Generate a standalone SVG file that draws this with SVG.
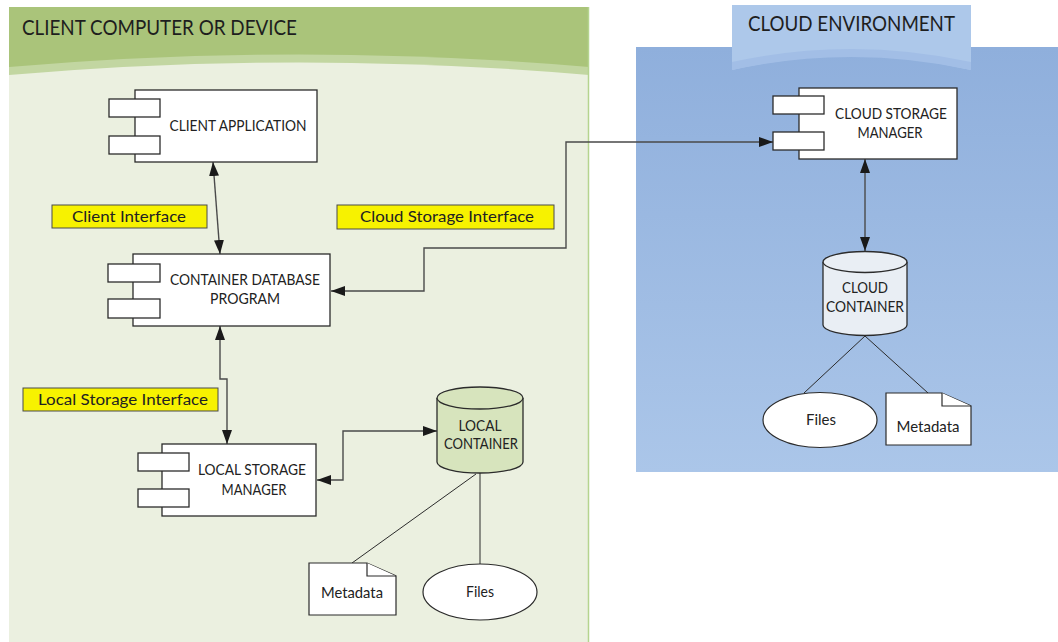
<svg xmlns="http://www.w3.org/2000/svg" width="1058" height="642" viewBox="0 0 1058 642">
  <defs>
    <style>
      .comp { fill: #ffffff; stroke: #2b2b2b; stroke-width: 1.3; }
      .shape { fill: #ffffff; stroke: #2b2b2b; stroke-width: 1.2; }
      .lbl { font-family: Lato, "Liberation Sans", Arial, sans-serif; font-size: 15px; fill: #222; text-anchor: middle; }
      .note { font-family: Lato, "Liberation Sans", Arial, sans-serif; font-size: 16px; fill: #222; text-anchor: middle; }
      .title { font-family: Lato, "Liberation Sans", Arial, sans-serif; font-size: 21px; fill: #1e1e1e; }
      .iface { fill: #f7f200; stroke: #4a4a4a; stroke-width: 1; }
      .conn { fill: none; stroke: #4a4a4a; stroke-width: 1.4; }
      .thin { fill: none; stroke: #2b2b2b; stroke-width: 1; }
    </style>
    <marker id="arr" viewBox="0 0 14 10" refX="14" refY="5" markerWidth="14" markerHeight="10" orient="auto-start-reverse" markerUnits="userSpaceOnUse">
      <path d="M0,0 L14,5 L0,10 Z" fill="#1a1a1a"/>
    </marker>
    <linearGradient id="cloudBody" x1="0" y1="0" x2="0" y2="1">
      <stop offset="0" stop-color="#8fafdc"/>
      <stop offset="1" stop-color="#abc6e9"/>
    </linearGradient>
  </defs>

  <!-- client side panel -->
  <g id="client-panel">
    <rect x="9" y="7" width="580" height="80" fill="#aac47a"/>
    <path d="M9,67 Q299,42 589,67 L589,80 L9,80 Z" fill="#c2d6a1"/>
    <path d="M9,75 Q299,50 589,75 L589,642 L9,642 Z" fill="#ebf0e0"/>
    <line x1="588.5" y1="7" x2="588.5" y2="642" stroke="#b5d48f" stroke-width="1.5"/>
    <text class="title" x="22" y="35" textLength="275" lengthAdjust="spacingAndGlyphs">CLIENT COMPUTER OR DEVICE</text>
  </g>

  <!-- cloud side panel -->
  <g id="cloud-panel">
    <rect x="636" y="47" width="422" height="425" fill="url(#cloudBody)"/>
    <path d="M732,5 H971 V70 Q851,42 732,70 Z" fill="#adc8ea"/>
    <path d="M732,62 Q851,36 971,62 V70 Q851,44 732,70 Z" fill="#a2bee6"/>
    <text class="title" x="748" y="31" textLength="207" lengthAdjust="spacingAndGlyphs">CLOUD ENVIRONMENT</text>
  </g>

  <!-- connectors -->
  <g id="connectors">
    <path class="conn" d="M213,162 L220,254" marker-start="url(#arr)" marker-end="url(#arr)"/>
    <path class="conn" d="M220,326 V379 H227 V444" marker-start="url(#arr)" marker-end="url(#arr)"/>
    <path class="conn" d="M331,291 H424 V248 H566 V142 H773" marker-start="url(#arr)" marker-end="url(#arr)"/>
    <path class="conn" d="M317,480 H343 V431 H437" marker-start="url(#arr)" marker-end="url(#arr)"/>
    <path class="conn" d="M865,159 V251" marker-start="url(#arr)" marker-end="url(#arr)"/>
    <path class="thin" d="M476,474 L352,563"/>
    <path class="thin" d="M480,473 V564"/>
    <path class="thin" d="M865,336 L804,393"/>
    <path class="thin" d="M865,336 L928,393"/>
  </g>

  <!-- interface labels -->
  <g id="client-interface">
    <rect class="iface" x="52" y="205" width="155" height="23"/>
    <text class="note" x="129" y="222" textLength="114" lengthAdjust="spacingAndGlyphs">Client Interface</text>
  </g>
  <g id="cloud-storage-interface">
    <rect class="iface" x="337" y="205" width="217" height="24"/>
    <text class="note" x="447" y="222" textLength="174" lengthAdjust="spacingAndGlyphs">Cloud Storage Interface</text>
  </g>
  <g id="local-storage-interface">
    <rect class="iface" x="23" y="388" width="195" height="23"/>
    <text class="note" x="123" y="405" textLength="170" lengthAdjust="spacingAndGlyphs">Local Storage Interface</text>
  </g>

  <!-- components -->
  <g id="client-application">
    <rect class="comp" x="135" y="90" width="182" height="72"/>
    <rect class="comp" x="109" y="99" width="51" height="18"/>
    <rect class="comp" x="109" y="136" width="51" height="18"/>
    <text class="lbl" x="238" y="131" textLength="137" lengthAdjust="spacingAndGlyphs">CLIENT APPLICATION</text>
  </g>
  <g id="container-database-program">
    <rect class="comp" x="133" y="254" width="197" height="72"/>
    <rect class="comp" x="108" y="264" width="52" height="18"/>
    <rect class="comp" x="108" y="299" width="52" height="19"/>
    <text class="lbl" x="245" y="285" textLength="150" lengthAdjust="spacingAndGlyphs">CONTAINER DATABASE</text>
    <text class="lbl" x="245" y="304" textLength="70" lengthAdjust="spacingAndGlyphs">PROGRAM</text>
  </g>
  <g id="local-storage-manager">
    <rect class="comp" x="162" y="444" width="154" height="72"/>
    <rect class="comp" x="138" y="453" width="51" height="18"/>
    <rect class="comp" x="138" y="489" width="51" height="18"/>
    <text class="lbl" x="252" y="475" textLength="108" lengthAdjust="spacingAndGlyphs">LOCAL STORAGE</text>
    <text class="lbl" x="254" y="495" textLength="65" lengthAdjust="spacingAndGlyphs">MANAGER</text>
  </g>
  <g id="cloud-storage-manager">
    <rect class="comp" x="799" y="88" width="158" height="71"/>
    <rect class="comp" x="773" y="96" width="51" height="18"/>
    <rect class="comp" x="773" y="132" width="51" height="18"/>
    <text class="lbl" x="891" y="119" textLength="112" lengthAdjust="spacingAndGlyphs">CLOUD STORAGE</text>
    <text class="lbl" x="890" y="138" textLength="65" lengthAdjust="spacingAndGlyphs">MANAGER</text>
  </g>

  <!-- containers -->
  <g id="local-container">
    <path d="M437,398 V462 A43,11 0 0 0 523,462 V398" fill="#d7e4bd" stroke="#2b2b2b" stroke-width="1.3"/>
    <ellipse cx="480" cy="398" rx="43" ry="11" fill="#d7e4bd" stroke="#2b2b2b" stroke-width="1.3"/>
    <text class="lbl" x="480" y="431" textLength="43" lengthAdjust="spacingAndGlyphs">LOCAL</text>
    <text class="lbl" x="481" y="449" textLength="74" lengthAdjust="spacingAndGlyphs">CONTAINER</text>
  </g>
  <g id="cloud-container">
    <path d="M823,262 V325 A42,10.5 0 0 0 907,325 V262" fill="#e9eef4" stroke="#2b2b2b" stroke-width="1.3"/>
    <ellipse cx="865" cy="262" rx="42" ry="10.5" fill="#e9eef4" stroke="#2b2b2b" stroke-width="1.3"/>
    <text class="lbl" x="865" y="293" textLength="46" lengthAdjust="spacingAndGlyphs">CLOUD</text>
    <text class="lbl" x="865" y="312" textLength="78" lengthAdjust="spacingAndGlyphs">CONTAINER</text>
  </g>

  <!-- stored items -->
  <g id="local-metadata">
    <path class="shape" d="M309,563 H367 L396,576 V615 H309 Z"/>
    <path class="shape" d="M367,563 V576 H396"/>
    <text class="lbl" x="352" y="598" textLength="62" lengthAdjust="spacingAndGlyphs">Metadata</text>
  </g>
  <g id="local-files">
    <ellipse class="shape" cx="480" cy="592" rx="57" ry="28"/>
    <text class="lbl" x="480" y="597" textLength="28" lengthAdjust="spacingAndGlyphs">Files</text>
  </g>
  <g id="cloud-files">
    <ellipse class="shape" cx="820" cy="420" rx="57" ry="27.5"/>
    <text class="lbl" x="821" y="425" textLength="30" lengthAdjust="spacingAndGlyphs">Files</text>
  </g>
  <g id="cloud-metadata">
    <path class="shape" d="M886,393 H942 L971,406 V445 H886 Z"/>
    <path class="shape" d="M942,393 V406 H971"/>
    <text class="lbl" x="928" y="432" textLength="63" lengthAdjust="spacingAndGlyphs">Metadata</text>
  </g>
</svg>
